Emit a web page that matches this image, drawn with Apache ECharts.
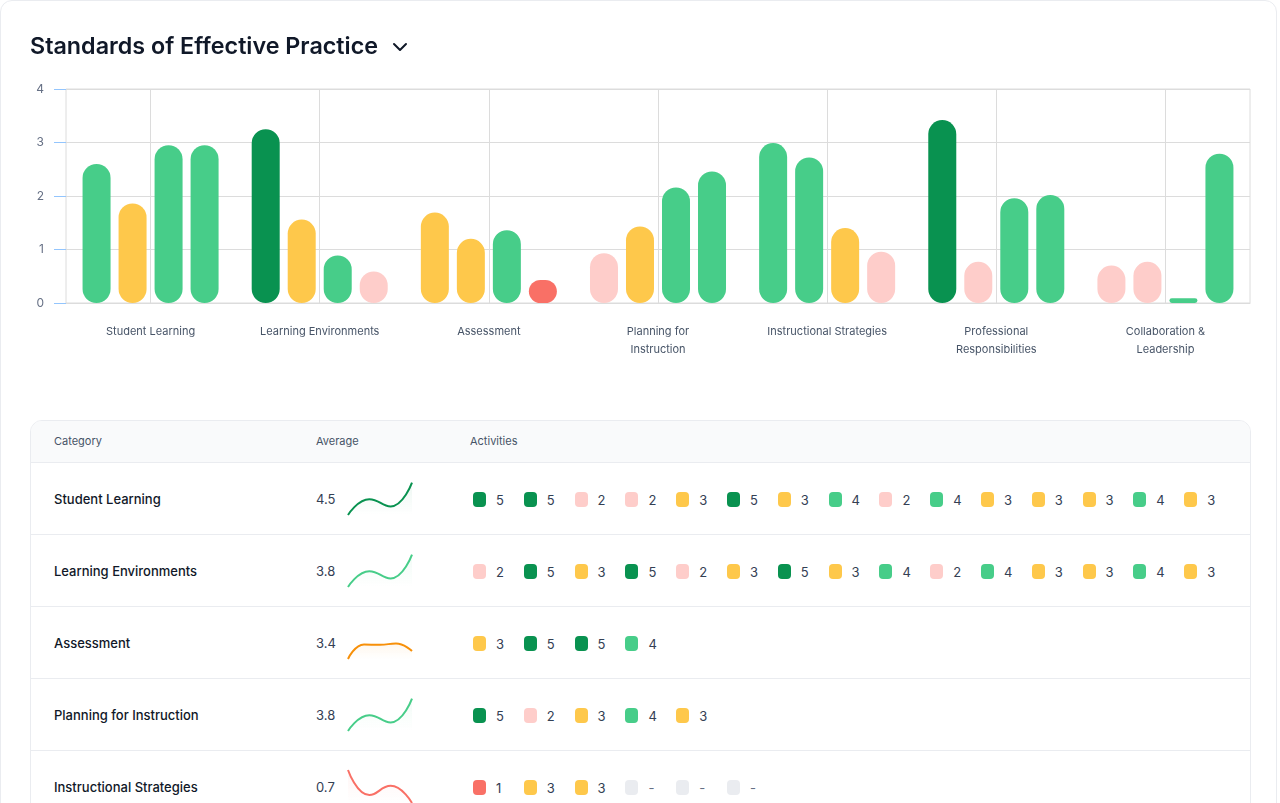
<!DOCTYPE html>
<html>
<head>
<meta charset="utf-8">
<title>Standards of Effective Practice</title>
<script src="https://cdn.jsdelivr.net/npm/echarts@6/dist/echarts.min.js"></script>
<style>
  html, body { margin: 0; padding: 0; background: #fff; overflow: hidden; }
  body { width: 1280px; height: 803px; font-family: Inter, "Noto Sans", sans-serif; }
  .card { position: absolute; left: 0; top: 0; width: 1277px; height: 900px;
          border: 1px solid #EAECF0; border-radius: 12px; box-sizing: border-box; }
  .title { position: absolute; left: 29px; top: 31px; font-size: 23.3px; line-height: 28px;
           font-weight: 600; color: #101828; z-index: 2; }
  .chev { position: absolute; left: 390px; top: 40px; z-index: 2; }
  #bars { position: absolute; left: -1px; top: -1px; width: 1280px; height: 400px; }
  .table { position: absolute; left: 29px; top: 419px; width: 1221px; height: 500px;
           border: 1px solid #EAECF0; border-radius: 12px; overflow: hidden; box-sizing: border-box; }
  .thead { position: relative; height: 41px; background: #F9FAFB; border-bottom: 1px solid #EAECF0; }
  .thead span { position: absolute; top: 0; line-height: 41px; font-size: 11px; color: #475467; }
  .row { position: relative; height: 71px; border-bottom: 1px solid #EAECF0; }
  .row .name { position: absolute; left: 23px; top: 1px; line-height: 71px; font-size: 13px;
               font-weight: 500; color: #101828; }
  .row .avg { position: absolute; left: 285px; top: 1px; line-height: 71px; font-size: 13px; color: #344054; }
  .row .spark { position: absolute; left: 316px; top: 18px; width: 66px; height: 35px; }
  .row .acts { position: absolute; left: 442px; top: 1px; height: 71px; display: flex; align-items: center; }
  .act { width: 50.8px; display: flex; align-items: center; font-size: 13px; color: #344054; }
  .chip { width: 13px; height: 15px; border-radius: 4px; margin-right: 10px; }
</style>
</head>
<body>
<div class="card">
  <div class="title">Standards of Effective Practice</div>
  <svg class="chev" width="18" height="12" viewBox="0 0 18 12">
    <polyline points="3,3 9,9 15,3" fill="none" stroke="#101828" stroke-width="2"
              stroke-linecap="round" stroke-linejoin="round"/>
  </svg>
  <div id="bars"></div>
  <div class="table" id="table">
    <div class="thead">
      <span style="left:23px">Category</span>
      <span style="left:285px">Average</span>
      <span style="left:439px">Activities</span>
    </div>
  </div>
</div>
<script>
// chart data
var categories = ['Student Learning', 'Learning Environments', 'Assessment',
  'Planning for Instruction', 'Instructional Strategies',
  'Professional Responsibilities', 'Collaboration & Leadership'];
var axisLabels = ['Student Learning', 'Learning Environments', 'Assessment',
  'Planning for\nInstruction', 'Instructional Strategies',
  'Professional\nResponsibilities', 'Collaboration &\nLeadership'];
var yTicks = [0, 1, 2, 3, 4];

var bar1 = [2.6, 3.25, 1.69, 0.93, 2.99, 3.42, 0.70];
var bar2 = [1.86, 1.56, 1.2, 1.43, 2.72, 0.77, 0.77];
var bar3 = [2.95, 0.89, 1.36, 2.16, 1.40, 1.96, 0.09];
var bar4 = [2.95, 0.59, 0.43, 2.46, 0.96, 2.02, 2.79];
// score level of each bar (drives its colour)
var level1 = [4, 5, 3, 2, 4, 5, 2];
var level2 = [3, 3, 3, 3, 4, 2, 2];
var level3 = [4, 4, 4, 4, 3, 4, 4];
var level4 = [4, 2, 1, 4, 2, 4, 4];

// table data
var tableNames = categories.slice(0, 5);
var averages = ['4.5', '3.8', '3.4', '3.8', '0.7'];
var spark1 = [0, 2.4, 1.3, 4.9];
var spark2 = [0, 2.4, 1.3, 4.9];
var spark3 = [0, 2.2, 2.15, 2.35, 1.2];
var spark4 = [0, 2.4, 1.3, 4.9];
var spark5 = [5, 1.2, 2.6, 0];
var act1 = [5, 5, 2, 2, 3, 5, 3, 4, 2, 4, 3, 3, 3, 4, 3];
var act2 = [2, 5, 3, 5, 2, 3, 5, 3, 4, 2, 4, 3, 3, 4, 3];
var act3 = [3, 5, 5, 4];
var act4 = [5, 2, 3, 4, 3];
var act5 = [1, 3, 3, null, null, null];

var levelColors = { 5: '#099250', 4: '#47CD89', 3: '#FEC84B', 2: '#FECDCA', 1: '#F97066' };
var emptyColor = '#EAECF0';
var sparkColors = ['#099250', '#47CD89', '#F79009', '#47CD89', '#F97066'];

function toBars(values, levels)
{
    return values.map(function (v, i) {
        return { value: v, itemStyle: { color: levelColors[levels[i]] } };
    });
}

function barSeries(values, levels)
{
    return {
        type: 'bar',
        barWidth: 28,
        barGap: '28.6%',
        itemStyle: { borderRadius: 14 },
        data: toBars(values, levels)
    };
}

var barChart = echarts.init(document.getElementById('bars'));

var barOption = {
    animation: false,
    textStyle: { fontFamily: 'Inter' },
    grid: {
        left: 66, right: 30, top: 89, height: 214,
        show: true, borderColor: '#DCDCDC', borderWidth: 1
    },
    xAxis: {
        type: 'category',
        data: axisLabels,
        axisLine: { lineStyle: { color: '#DCDCDC' } },
        axisTick: { alignWithLabel: true, length: 8, lineStyle: { color: '#93C5FD' } },
        splitLine: { show: true, alignWithLabel: true, lineStyle: { color: '#DCDCDC' } },
        axisLabel: { interval: 0, color: '#475467', fontSize: 11, lineHeight: 18, margin: 20 }
    },
    yAxis: {
        type: 'value',
        min: yTicks[0],
        max: yTicks[yTicks.length - 1],
        interval: 1,
        axisLine: { show: false },
        axisTick: { show: true, length: 12, lineStyle: { color: '#93C5FD' } },
        splitLine: { lineStyle: { color: '#DCDCDC' } },
        axisLabel: { color: '#667085', fontSize: 12, margin: 22, padding: [4, 0, 0, 0] }
    },
    series: [
        barSeries(bar1, level1),
        barSeries(bar2, level2),
        barSeries(bar3, level3),
        barSeries(bar4, level4)
    ]
};

barChart.setOption(barOption);

function rgba(hex, a)
{
    var n = parseInt(hex.slice(1), 16);
    return 'rgba(' + (n >> 16 & 255) + ',' + (n >> 8 & 255) + ',' + (n & 255) + ',' + a + ')';
}

var sparks = [spark1, spark2, spark3, spark4, spark5];
var acts = [act1, act2, act3, act4, act5];
var table = document.getElementById('table');

for (var r = 0; r < tableNames.length; ++r)
{
    var row = document.createElement('div');
    row.className = 'row';
    var html = '<div class="name">' + tableNames[r].replace('&', '&amp;') + '</div>' +
               '<div class="avg">' + averages[r] + '</div>' +
               '<div class="spark"></div><div class="acts">';
    acts[r].forEach(function (v) {
        var c = v === null ? emptyColor : levelColors[v];
        html += '<div class="act"><div class="chip" style="background:' + c + '"></div>' +
                '<span' + (v === null ? ' style="color:#667085"' : '') + '>' +
                (v === null ? '-' : v) + '</span></div>';
    });
    html += '</div>';
    row.innerHTML = html;
    table.appendChild(row);

    var color = sparkColors[r];
    var sparkChart = echarts.init(row.querySelector('.spark'));
    sparkChart.setOption({
        animation: false,
        grid: { left: 1, right: 1, top: 1, bottom: 1 },
        xAxis: { type: 'category', boundaryGap: false, show: false,
                 data: sparks[r].map(function (v, i) { return i; }) },
        yAxis: { type: 'value', min: 0, max: 5, show: false },
        series: [{
            type: 'line',
            smooth: true,
            symbol: 'none',
            data: sparks[r],
            lineStyle: { color: color, width: 2 },
            areaStyle: {
                color: new echarts.graphic.LinearGradient(0, 0, 0, 1, [
                    { offset: 0, color: rgba(color, 0.1) },
                    { offset: 1, color: rgba(color, 0) }
                ])
            }
        }]
    });
}

window.addEventListener('resize', function ()
{
    barChart.resize();
});
</script>
</body>
</html>
